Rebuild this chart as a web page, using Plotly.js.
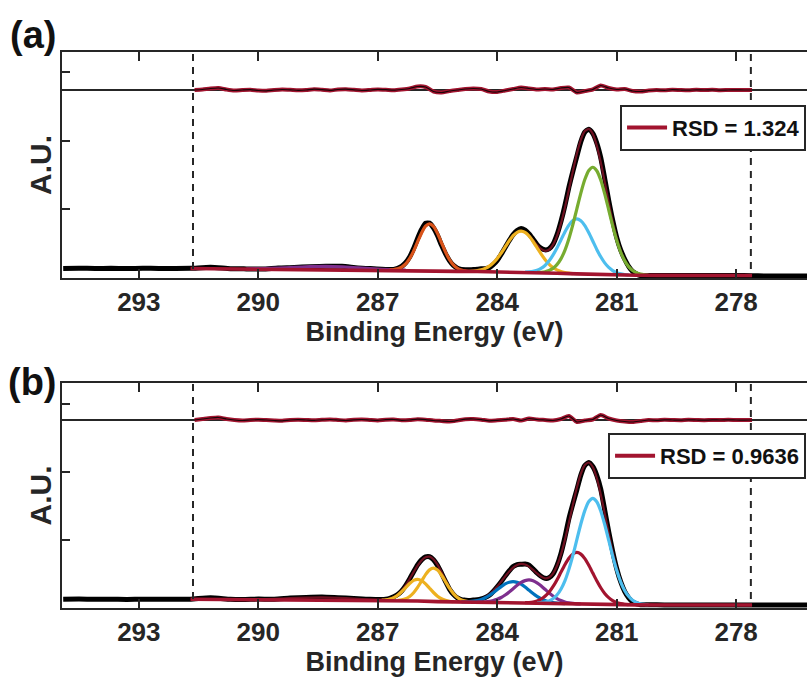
<!DOCTYPE html>
<html><head><meta charset="utf-8">
<script src="https://cdn.plot.ly/plotly-3.0.1.min.js"></script>
<style>html,body{margin:0;padding:0;background:#fff;}#chart{width:807px;height:678px;}</style>
</head><body><div id="chart"></div>
<script>
// ---------- shared tick labels / texts ----------
const tickValues = [293, 290, 287, 284, 281, 278];
const tickLabels = ['293', '290', '287', '284', '281', '278'];
const xTitle = '\u00a0\u00a0Binding Energy (eV)';
const yTitle = 'A.U.';
const rsdA = 'RSD = 1.324';
const rsdB = 'RSD = 0.9636';

// ---------- energies ----------
const leftEnergy = [294.9, 294.5, 294.1, 293.7, 293.3, 292.9, 292.5, 292.1];
const rightEnergy = [277.3, 277.0, 276.6, 276.2];
const tailEnergy = [279.8, 279.2, 278.6, 278.0, 277.6];
const fineEnergyA = [286.7,286.6,286.5,286.4,286.3,286.2,286.1,286.0,285.9,285.8,285.7,285.6,285.5,285.4,285.3,285.2,285.1,285.0,284.9,284.8,284.7,284.6,284.5,284.4,284.3,284.2,284.1,284.0,283.9,283.8,283.7,283.6,283.5,283.4,283.3,283.2,283.1,283.0,282.9,282.8,282.7,282.6,282.5,282.4,282.3,282.2,282.1,282.0,281.9,281.8,281.7,281.6,281.5,281.4,281.3,281.2,281.1,281.0,280.9,280.8,280.7,280.6,280.5,280.4,280.3,280.2];
const fineEnergyB = [286.8].concat(fineEnergyA);
const headEnergyA = [291.7, 291.2, 290.7, 290.3, 289.9, 289.5, 289.1, 288.7, 288.3, 287.9, 287.5, 287.1];
const headEnergyB = [291.7, 291.2, 290.7, 290.4, 290.0, 289.6, 289.2, 288.8, 288.4, 288.0, 287.6, 287.2, 286.9];
const bgEnergy = [291.7, 291, 290, 289, 288, 287, 286.5, 286, 285.5, 285, 284.5, 284, 283.5, 283, 282.5, 282, 281.5, 281, 280.5, 280, 279, 278, 277.6];
const residualEnergy = [291.6,291.4,291.2,291.0,290.8,290.6,290.4,290.2,290.0,289.8,289.6,289.4,289.2,289.0,288.8,288.6,288.4,288.2,288.0,287.8,287.6,287.4,287.2,287.0,286.8,286.6,286.4,286.2,286.0,285.8,285.6,285.4,285.2,285.0,284.8,284.6,284.4,284.2,284.0,283.8,283.6,283.4,283.2,283.0,282.8,282.6,282.4,282.2,282.0,281.8,281.6,281.4,281.2,281.0,280.8,280.6,280.4,280.2,280.0,279.8,279.6,279.4,279.2,279.0,278.8,278.6,278.4,278.2,278.0,277.8,277.6];

// ---------- panel (a) ----------
const dataLeftA = [0.140,0.143,0.139,0.141,0.138,0.142,0.140,0.139];
const dataHeadA = [0.141,0.157,0.136,0.133,0.131,0.146,0.153,0.165,0.172,0.170,0.147,0.135];
const dataFineA = [0.124,0.126,0.141,0.169,0.222,0.305,0.429,0.576,0.706,0.798,0.799,0.729,0.620,0.479,0.356,0.254,0.183,0.142,0.124,0.120,0.119,0.125,0.126,0.134,0.137,0.151,0.195,0.256,0.346,0.445,0.544,0.631,0.692,0.722,0.696,0.642,0.566,0.487,0.434,0.410,0.423,0.489,0.627,0.820,1.054,1.321,1.554,1.772,1.986,2.124,2.166,2.105,1.965,1.752,1.446,1.130,0.840,0.592,0.408,0.277,0.170,0.097,0.059,0.035,0.032,0.035];
const dataTailA = [0.036,0.035,0.037,0.036,0.034];
const dataRightA = [0.030,0.029,0.031,0.029];
const envHeadA = [0.138,0.136,0.134,0.134,0.137,0.144,0.154,0.165,0.169,0.162,0.147,0.133];
const envFineA = [0.125,0.129,0.139,0.162,0.207,0.283,0.393,0.525,0.656,0.754,0.789,0.751,0.650,0.516,0.381,0.269,0.190,0.142,0.117,0.105,0.101,0.103,0.108,0.119,0.141,0.173,0.221,0.285,0.364,0.452,0.540,0.616,0.666,0.685,0.667,0.620,0.551,0.480,0.423,0.395,0.412,0.482,0.609,0.791,1.021,1.284,1.554,1.809,2.012,2.139,2.170,2.098,1.928,1.686,1.398,1.101,0.822,0.585,0.397,0.262,0.170,0.112,0.077,0.057,0.047,0.042];
const envTailA = [0.038,0.037,0.036,0.036,0.036];
const backgroundA = [0.138,0.135,0.131,0.127,0.123,0.118,0.115,0.110,0.102,0.097,0.094,0.090,0.084,0.078,0.070,0.060,0.050,0.043,0.040,0.038,0.037,0.036,0.036];
const purpleEnergyA = [290.3,289.9,289.5,289.1,288.7,288.3,287.9,287.5,287.1,286.7,286.3];
const purpleA = [0.134,0.137,0.144,0.154,0.165,0.169,0.162,0.147,0.133,0.122,0.115];
const orangeEnergyA = [286.7,286.6,286.5,286.4,286.3,286.2,286.1,286.0,285.9,285.8,285.7,285.6,285.5,285.4,285.3,285.2,285.1,285.0,284.9,284.8,284.7];
const orangeA = [0.119,0.124,0.135,0.159,0.205,0.282,0.392,0.525,0.656,0.754,0.789,0.751,0.650,0.516,0.381,0.269,0.190,0.142,0.116,0.104,0.098];
const yellowEnergyA = [284.7,284.6,284.5,284.4,284.3,284.2,284.1,284.0,283.9,283.8,283.7,283.6,283.5,283.4,283.3,283.2,283.1,283.0,282.9,282.8,282.7,282.6,282.5,282.4,282.3,282.2,282.1];
const yellowA = [0.098,0.102,0.108,0.119,0.141,0.173,0.221,0.285,0.364,0.452,0.540,0.616,0.665,0.683,0.663,0.611,0.532,0.442,0.351,0.270,0.203,0.153,0.118,0.094,0.080,0.071,0.065];
const lightBlueEnergyA = [283.3,283.2,283.1,283.0,282.9,282.8,282.7,282.6,282.5,282.4,282.3,282.2,282.1,282.0,281.9,281.8,281.7,281.6,281.5,281.4,281.3,281.2,281.1,281.0,280.9,280.8,280.7];
const lightBlueA = [0.086,0.090,0.097,0.113,0.140,0.183,0.246,0.332,0.436,0.554,0.670,0.770,0.837,0.860,0.833,0.762,0.658,0.538,0.416,0.309,0.220,0.154,0.108,0.078,0.060,0.051,0.045];
const greenEnergyA = [283.0,282.9,282.8,282.7,282.6,282.5,282.4,282.3,282.2,282.1,282.0,281.9,281.8,281.7,281.6,281.5,281.4,281.3,281.2,281.1,281.0,280.9,280.8,280.7,280.6,280.5,280.4,280.3,280.2];
const greenA = [0.081,0.084,0.092,0.109,0.141,0.195,0.279,0.403,0.571,0.776,1.007,1.236,1.433,1.566,1.612,1.562,1.426,1.225,0.993,0.758,0.550,0.379,0.253,0.166,0.110,0.076,0.057,0.047,0.042];
const residualA = [0,0.5,1.5,2,0.5,-0.5,0,0.3,-0.5,-0.8,0,0.5,0.2,-0.3,0,0.8,0.3,-0.4,0.5,0.8,0.2,-0.5,0,0.6,0.3,-0.2,0.5,1.5,3.5,3,-1.5,-2.5,-1,0,1,1.5,1,-1.5,-2,-0.5,1,2.5,1.5,0.5,1,0.5,2,2.5,-2.5,-1,0.5,4.5,2,0.5,1,-1,-1.5,-0.5,0,-0.3,0.3,0,-0.2,0.2,0,0.2,-0.2,0,0.1,0,0];

// ---------- panel (b) ----------
const dataLeftB = [0.128,0.131,0.127,0.129,0.126,0.130,0.128,0.127];
const dataHeadB = [0.130,0.150,0.128,0.125,0.131,0.130,0.146,0.156,0.161,0.151,0.140,0.128,0.125];
const dataFineB = [0.129,0.141,0.164,0.198,0.251,0.330,0.427,0.534,0.635,0.708,0.751,0.754,0.711,0.627,0.513,0.392,0.278,0.200,0.148,0.123,0.116,0.111,0.118,0.122,0.134,0.155,0.187,0.244,0.312,0.388,0.469,0.545,0.609,0.638,0.643,0.648,0.631,0.576,0.515,0.467,0.437,0.444,0.500,0.622,0.800,1.039,1.313,1.532,1.740,1.955,2.096,2.140,2.081,1.952,1.749,1.440,1.122,0.831,0.581,0.387,0.244,0.150,0.088,0.061,0.048,0.047,0.048];
const dataTailB = [0.046,0.043,0.045,0.044,0.043];
const dataRightB = [0.045,0.043,0.044,0.043];
const envHeadB = [0.128,0.127,0.125,0.126,0.128,0.135,0.145,0.154,0.158,0.151,0.138,0.126,0.122];
const envFineB = [0.125,0.135,0.157,0.195,0.255,0.332,0.427,0.528,0.623,0.700,0.747,0.755,0.718,0.638,0.528,0.410,0.300,0.215,0.155,0.121,0.104,0.098,0.103,0.112,0.130,0.159,0.199,0.252,0.316,0.388,0.465,0.535,0.594,0.634,0.650,0.641,0.609,0.561,0.508,0.463,0.437,0.448,0.507,0.618,0.785,1.002,1.254,1.517,1.769,1.973,2.103,2.140,2.074,1.912,1.675,1.392,1.100,0.824,0.588,0.402,0.266,0.176,0.117,0.083,0.063,0.054,0.048];
const envTailB = [0.045,0.044,0.044,0.044,0.044];
const backgroundB = [0.128,0.126,0.123,0.120,0.116,0.112,0.108,0.102,0.094,0.088,0.085,0.082,0.077,0.071,0.065,0.058,0.052,0.048,0.046,0.045,0.044,0.044,0.044];
const yellow1EnergyB = [286.9,286.8,286.7,286.6,286.5,286.4,286.3,286.2,286.1,286.0,285.9,285.8,285.7,285.6,285.5,285.4,285.3,285.2,285.1];
const yellow1B = [0.115,0.120,0.131,0.152,0.188,0.239,0.299,0.360,0.406,0.422,0.403,0.355,0.291,0.228,0.174,0.136,0.113,0.099,0.093];
const yellow2EnergyB = [286.5,286.4,286.3,286.2,286.1,286.0,285.9,285.8,285.7,285.6,285.5,285.4,285.3,285.2,285.1,285.0,284.9,284.8,284.7];
const yellow2B = [0.113,0.121,0.137,0.170,0.225,0.303,0.397,0.491,0.561,0.586,0.558,0.485,0.389,0.291,0.211,0.154,0.119,0.101,0.091];
const blueEnergyB = [284.9,284.8,284.7,284.6,284.5,284.4,284.3,284.2,284.1,284.0,283.9,283.8,283.7,283.6,283.5,283.4,283.3,283.2,283.1,283.0,282.9,282.8,282.7,282.6,282.5,282.4,282.3];
const blueB = [0.089,0.090,0.093,0.100,0.110,0.126,0.151,0.184,0.225,0.270,0.315,0.354,0.379,0.388,0.377,0.350,0.308,0.261,0.214,0.172,0.137,0.111,0.092,0.080,0.072,0.067,0.064];
const purpleEnergyB = [284.5,284.4,284.3,284.2,284.1,284.0,283.9,283.8,283.7,283.6,283.5,283.4,283.3,283.2,283.1,283.0,282.9,282.8,282.7,282.6,282.5,282.4,282.3,282.2,282.1,282.0,281.9];
const purpleB = [0.087,0.088,0.092,0.098,0.110,0.128,0.154,0.191,0.235,0.284,0.334,0.376,0.403,0.413,0.401,0.371,0.327,0.275,0.223,0.177,0.138,0.110,0.089,0.076,0.067,0.062,0.059];
const redEnergyB = [283.3,283.2,283.1,283.0,282.9,282.8,282.7,282.6,282.5,282.4,282.3,282.2,282.1,282.0,281.9,281.8,281.7,281.6,281.5,281.4,281.3,281.2,281.1,281.0,280.9,280.8,280.7];
const redB = [0.078,0.081,0.089,0.104,0.131,0.172,0.231,0.313,0.413,0.525,0.636,0.732,0.795,0.818,0.793,0.726,0.628,0.514,0.400,0.298,0.214,0.153,0.110,0.081,0.065,0.055,0.051];
const lightBlueEnergyB = [283.0,282.9,282.8,282.7,282.6,282.5,282.4,282.3,282.2,282.1,282.0,281.9,281.8,281.7,281.6,281.5,281.4,281.3,281.2,281.1,281.0,280.9,280.8,280.7,280.6,280.5,280.4,280.3,280.2];
const lightBlueB = [0.074,0.078,0.086,0.103,0.135,0.190,0.275,0.399,0.568,0.773,1.005,1.235,1.432,1.566,1.613,1.564,1.428,1.228,0.997,0.763,0.555,0.385,0.258,0.172,0.115,0.082,0.063,0.054,0.048];
const residualB = [0,1,2,2.5,1,0,-0.5,0,0.3,0,-0.5,-0.8,0,0.3,0,-0.3,0.2,0.5,0,-0.5,0.2,0.5,0,-0.4,0.3,0.5,-0.3,0,0.8,0.3,-0.5,-1,-1.5,-0.5,0.8,1,0.3,-0.8,-0.3,0.3,1,-0.5,1.5,0.5,0,-0.5,1,4,-2,-0.5,0.5,5,1.5,-0.5,-1.5,-2,-1,0,-0.3,0.2,0,-0.2,0.2,0,-0.2,0.1,0,0.2,0,-0.1,0];

// ---------- build ----------
const FONT = 'Liberation Sans, Arial, Helvetica, sans-serif';
const AXC = '#262626';
const C = {blue:'#0072BD', orange:'#D95319', yellow:'#EDB120', purple:'#7E2F8E', green:'#77AC30', lightBlue:'#4DBEEE', red:'#A2142F'};

function line(x, y, color, width, xa, ya, extra) {
  return Object.assign({x: x, y: y, type: 'scatter', mode: 'lines', xaxis: xa, yaxis: ya,
    line: {color: color, width: width, shape: 'spline', smoothing: 0.6}, showlegend: false, hoverinfo: 'skip'}, extra || {});
}

const dataEnergyA = leftEnergy.concat(headEnergyA, fineEnergyA, tailEnergy, rightEnergy);
const dataA = dataLeftA.concat(dataHeadA, dataFineA, dataTailA, dataRightA);
const envEnergyA = headEnergyA.concat(fineEnergyA, tailEnergy);
const envA = envHeadA.concat(envFineA, envTailA);
const dataEnergyB = leftEnergy.concat(headEnergyB, fineEnergyB, tailEnergy, rightEnergy);
const dataB = dataLeftB.concat(dataHeadB, dataFineB, dataTailB, dataRightB);
const envEnergyB = headEnergyB.concat(fineEnergyB, tailEnergy);
const envB = envHeadB.concat(envFineB, envTailB);

const CW = 3.2;
const traces = [
  line(dataEnergyA, dataA, '#000', 5, 'x', 'y'),
  line(envEnergyA, envA, '#6e1020', 2.2, 'x', 'y'),
  line(purpleEnergyA, purpleA, C.purple, CW, 'x', 'y'),
  line(orangeEnergyA, orangeA, C.orange, CW, 'x', 'y'),
  line(yellowEnergyA, yellowA, C.yellow, CW, 'x', 'y'),
  line(lightBlueEnergyA, lightBlueA, C.lightBlue, CW, 'x', 'y'),
  line(greenEnergyA, greenA, C.green, CW, 'x', 'y'),
  line(bgEnergy, backgroundA, C.red, 3.6, 'x', 'y', {line:{color:C.red, width:3.6}}),
  line(residualEnergy, residualA, C.red, 4, 'x', 'y3', {showlegend: true, name: rsdA, legend: 'legend'}),
  line(residualEnergy, residualA, '#1a0508', 1.2, 'x', 'y3'),

  line(dataEnergyB, dataB, '#000', 5, 'x2', 'y2'),
  line(envEnergyB, envB, '#6e1020', 2.2, 'x2', 'y2'),
  line(yellow1EnergyB, yellow1B, C.yellow, CW, 'x2', 'y2'),
  line(yellow2EnergyB, yellow2B, C.yellow, CW, 'x2', 'y2'),
  line(blueEnergyB, blueB, C.blue, CW, 'x2', 'y2'),
  line(purpleEnergyB, purpleB, C.purple, CW, 'x2', 'y2'),
  line(redEnergyB, redB, C.red, CW, 'x2', 'y2'),
  line(lightBlueEnergyB, lightBlueB, C.lightBlue, CW, 'x2', 'y2'),
  line(bgEnergy, backgroundB, C.red, 3.6, 'x2', 'y2', {line:{color:C.red, width:3.6}}),
  line(residualEnergy, residualB, C.red, 4, 'x2', 'y4', {showlegend: true, name: rsdB, legend: 'legend2'}),
  line(residualEnergy, residualB, '#1a0508', 1.2, 'x2', 'y4')
];

const tickFont = {family: FONT, size: 26, color: AXC, weight: 'bold'};
const titleFont = {family: FONT, size: 27, color: AXC, weight: 'bold'};
function xAxis(anchor) {
  return {anchor: anchor, domain: [0, 1], range: [294.93, 276.22], tickvals: tickValues, ticktext: tickLabels,
    ticks: 'inside', ticklen: 9, tickwidth: 1.8, tickcolor: AXC, showline: true, linecolor: AXC, linewidth: 1.8,
    mirror: 'ticks', showgrid: false, zeroline: false, tickfont: tickFont,
    title: {text: xTitle, font: titleFont, standoff: 6}};
}
function yAxis(anchor, domain, top) {
  return {anchor: anchor, domain: domain, range: [0, top], tickvals: [1, 2, 3], ticks: 'inside', ticklen: 8,
    tickwidth: 1.8, tickcolor: AXC, showticklabels: false, showline: true, linecolor: AXC, linewidth: 1.8,
    showgrid: false, zeroline: false, title: {text: yTitle, font: {family: FONT, size: 30, color: AXC, weight: 'bold'}, standoff: 0}};
}
function resAxis(over, anchor, range) {
  return {overlaying: over, anchor: anchor, range: range, showticklabels: false, ticks: '', showgrid: false,
    showline: false, zeroline: true, zerolinecolor: AXC, zerolinewidth: 1.2};
}
function legendBox(y) {
  return {x: 0.999, y: y, xanchor: 'right', yanchor: 'top', bgcolor: '#fff', bordercolor: AXC, borderwidth: 1.8,
    font: {family: FONT, size: 22, color: '#111', weight: 'bold'}, itemwidth: 40};
}
function dashed(xa, ya, xv) {
  return {type: 'line', xref: xa, yref: ya + ' domain', x0: xv, x1: xv, y0: 0.04, y1: 1,
    line: {color: AXC, width: 2, dash: '7px,6px'}};
}

const layout = {
  width: 807, height: 678, paper_bgcolor: '#fff', plot_bgcolor: '#fff',
  margin: {l: 62, r: 0, t: 52, b: 70}, showlegend: true,
  xaxis: xAxis('y'), xaxis2: xAxis('y2'),
  yaxis: yAxis('x', [0.5935, 1], 3.29), yaxis2: yAxis('x2', [0, 0.4047], 3.31),
  yaxis3: resAxis('y', 'x', [-188, 38]), yaxis4: resAxis('y2', 'x2', [-188, 37]),
  legend: legendBox(0.9047), legend2: legendBox(0.3147),
  shapes: [dashed('x', 'y', 291.64), dashed('x', 'y', 277.63), dashed('x2', 'y2', 291.64), dashed('x2', 'y2', 277.63)],
  annotations: [
    {text: '(a)', xref: 'paper', yref: 'paper', x: -0.039, y: 1.030, xanchor: 'center', yanchor: 'middle', showarrow: false, font: {family: FONT, size: 38, color: '#111', weight: 'bold'}},
    {text: '(b)', xref: 'paper', yref: 'paper', x: -0.039, y: 0.4059, xanchor: 'center', yanchor: 'middle', showarrow: false, font: {family: FONT, size: 38, color: '#111', weight: 'bold'}}
  ]
};
Plotly.newPlot('chart', traces, layout, {displayModeBar: false, staticPlot: true});
</script></body></html>
